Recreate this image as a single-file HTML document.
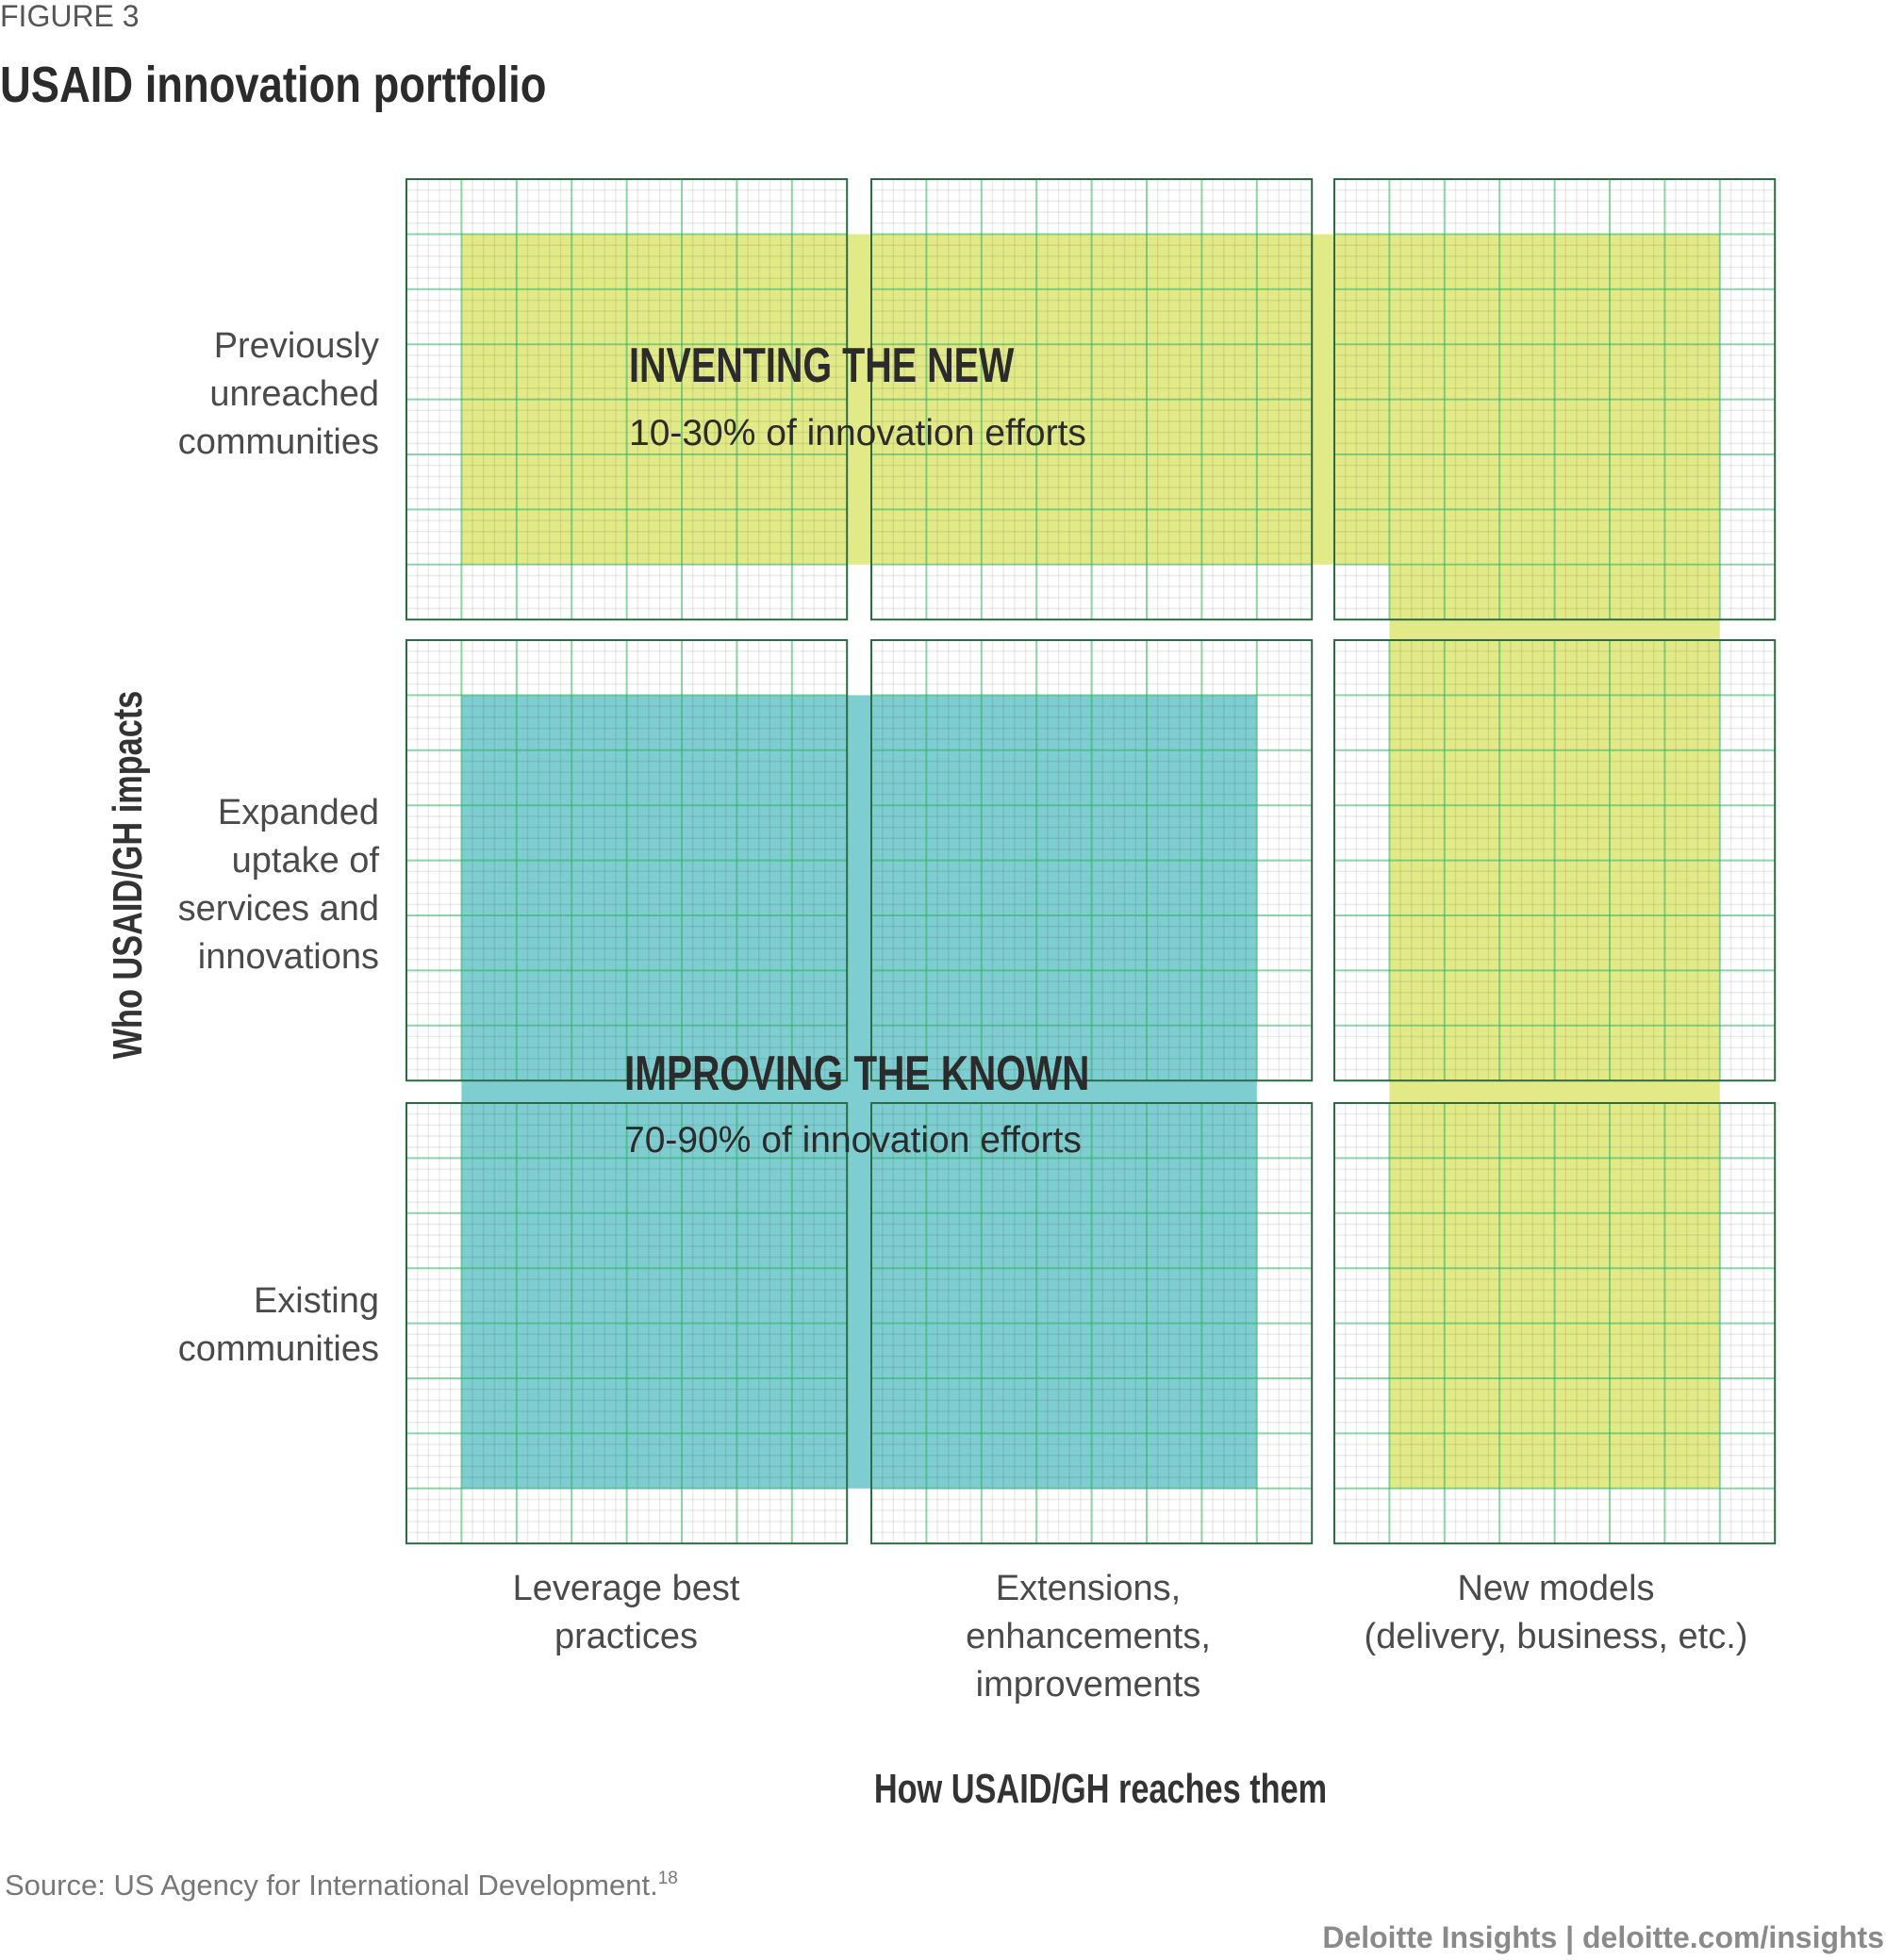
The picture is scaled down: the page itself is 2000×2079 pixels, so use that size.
<!DOCTYPE html>
<html><head><meta charset="utf-8"><style>
html,body{margin:0;padding:0;background:#fff;}
svg{display:block;}
.lab{font-family:"Liberation Sans",sans-serif;font-size:38px;fill:#4a4a4a;}
.cond{font-family:"Liberation Sans Narrow","Liberation Sans",sans-serif;font-weight:bold;}
</style></head><body>
<svg id="chart" width="2000" height="2079" viewBox="0 0 2000 2079" xmlns="http://www.w3.org/2000/svg">
<text x="0" y="28" font-family="Liberation Sans, sans-serif" font-size="32" fill="#555">FIGURE 3</text>
<text class="cond" x="0" y="108" font-size="54" fill="#2b2b2b" transform="scale(0.84,1)">USAID innovation portfolio</text>
<g id="grid"></g>
<g id="labels">
<text class="lab" text-anchor="end"><tspan x="402" y="379">Previously</tspan><tspan x="402" y="430">unreached</tspan><tspan x="402" y="481">communities</tspan></text>
<text class="lab" text-anchor="end"><tspan x="402" y="874">Expanded</tspan><tspan x="402" y="925">uptake of</tspan><tspan x="402" y="976">services and</tspan><tspan x="402" y="1027">innovations</tspan></text>
<text class="lab" text-anchor="end"><tspan x="402" y="1392">Existing</tspan><tspan x="402" y="1443">communities</tspan></text>
<text class="lab" text-anchor="middle"><tspan x="664" y="1697">Leverage best</tspan><tspan x="664" y="1748">practices</tspan></text>
<text class="lab" text-anchor="middle"><tspan x="1154" y="1697">Extensions,</tspan><tspan x="1154" y="1748">enhancements,</tspan><tspan x="1154" y="1799">improvements</tspan></text>
<text class="lab" text-anchor="middle"><tspan x="1650" y="1697">New models</tspan><tspan x="1650" y="1748">(delivery, business, etc.)</tspan></text>
<g transform="translate(1167,1912) scale(0.78,1)"><text class="cond" x="0" y="0" font-size="44" fill="#333" text-anchor="middle">How USAID/GH reaches them</text></g>
<g transform="translate(150,928) rotate(-90) scale(0.78,1)"><text class="cond" x="0" y="0" font-size="44" fill="#333" text-anchor="middle">Who USAID/GH impacts</text></g>
<g transform="translate(667,405) scale(0.76,1)"><text class="cond" x="0" y="0" font-size="52" fill="#2b2b2b">INVENTING THE NEW</text></g>
<text x="667" y="472" font-family="Liberation Sans, sans-serif" font-size="39" fill="#2b2b2b">10-30% of innovation efforts</text>
<g transform="translate(662,1156) scale(0.78,1)"><text class="cond" x="0" y="0" font-size="52" fill="#2b2b2b">IMPROVING THE KNOWN</text></g>
<text x="662" y="1222" font-family="Liberation Sans, sans-serif" font-size="39" fill="#2b2b2b">70-90% of innovation efforts</text>
<text x="5" y="2010" font-family="Liberation Sans, sans-serif" font-size="31" fill="#777">Source: US Agency for International Development.<tspan font-size="19" dy="-12">18</tspan></text>
<text x="1998" y="2066" text-anchor="end" font-family="Liberation Sans, sans-serif" font-weight="bold" font-size="32" fill="#8a8a8a">Deloitte Insights | deloitte.com/insights</text>
</g>
</svg>
<script>
// Regions in grid-cell units (3 panels x 8 cells per axis => 0..24)
const regionNames = ['inventing-top-band','inventing-right-column','improving-block'];
const regionColStart = [1, 17, 1];
const regionColEnd = [23, 23, 15];
const regionRowStart = [1, 1, 9];
const regionRowEnd = [7, 23, 23];
const regionColors = ['#e2ea88','#e2ea88','#7ecdd0'];

const NS='http://www.w3.org/2000/svg';
const g=document.getElementById('grid');
const panelLeft=[431,924,1415], panelTop=[190,679,1170], cell=58.4, cells=8;
function xs(u){const p=Math.min(2,Math.floor(u/cells));return panelLeft[p]+(u-p*cells)*cell;}
function xe(u){const p=Math.floor((u-1)/cells);return panelLeft[p]+(u-p*cells)*cell;}
function ys(u){const p=Math.min(2,Math.floor(u/cells));return panelTop[p]+(u-p*cells)*cell;}
function ye(u){const p=Math.floor((u-1)/cells);return panelTop[p]+(u-p*cells)*cell;}
function mk(t,a){const e=document.createElementNS(NS,t);for(const k in a)e.setAttribute(k,a[k]);g.appendChild(e);return e;}

for(let i=0;i<regionNames.length;i++){
  const r=mk('rect',{x:xs(regionColStart[i]),y:ys(regionRowStart[i]),width:xe(regionColEnd[i])-xs(regionColStart[i]),height:ye(regionRowEnd[i])-ys(regionRowStart[i]),fill:regionColors[i]});
  
  
}
const W=cells*cell;
for(let pi=0;pi<3;pi++)for(let pj=0;pj<3;pj++){
  const L=panelLeft[pi],T=panelTop[pj];
  for(let k=1;k<cells*5;k++){
    if(k%5===0)continue;
    const d=k*cell/5;
    mk('line',{x1:L+d,y1:T,x2:L+d,y2:T+W,stroke:'rgba(0,0,0,0.08)','stroke-width':1.5});
    mk('line',{x1:L,y1:T+d,x2:L+W,y2:T+d,stroke:'rgba(0,0,0,0.08)','stroke-width':1.5});
  }
  for(let k=1;k<cells;k++){
    const d=k*cell;
    mk('line',{x1:L+d,y1:T,x2:L+d,y2:T+W,stroke:'rgba(50,175,100,0.55)','stroke-width':2});
    mk('line',{x1:L,y1:T+d,x2:L+W,y2:T+d,stroke:'rgba(50,175,100,0.55)','stroke-width':2});
  }
  const b=mk('rect',{x:L,y:T,width:W,height:W,fill:'none',stroke:'#2d6b45','stroke-width':2});
  
  
}
</script>
</body></html>
